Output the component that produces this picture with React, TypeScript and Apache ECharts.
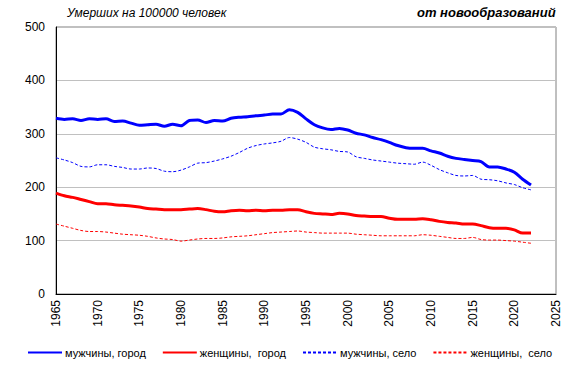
import React, { useEffect, useRef } from "react";
import * as echarts from "echarts";

const years: number[] = [];
for (let y = 1965; y <= 2022; y++) years.push(y);

const menCity = [
  329, 327, 328, 325, 328, 327, 328, 323, 324, 320,
  316, 317, 318, 314, 318, 315, 325, 326, 321, 325,
  324, 329, 331, 332, 334, 335, 337, 337, 345, 340,
  328, 317, 311, 308, 310, 307, 301, 298, 293, 289,
  284, 278, 274, 273, 273, 268, 264, 258, 254, 252,
  250, 248, 238, 238, 234, 228, 215, 204,
];
const womenCity = [
  189, 184, 181, 177, 173, 169, 169, 167, 166, 165,
  163, 160, 159, 158, 158, 158, 159, 160, 158, 155,
  154, 156, 157, 156, 157, 156, 157, 157, 158, 158,
  154, 151, 150, 149, 151, 150, 147, 146, 145, 145,
  142, 140, 140, 140, 141, 139, 136, 134, 133, 131,
  131, 128, 124, 123, 123, 120, 114, 114,
];
const menVillage = [
  255, 251, 246, 239, 238, 242, 242, 239, 237, 234,
  234, 236, 235, 230, 229, 232, 238, 245, 246, 249,
  253, 258, 265, 273, 278, 281, 283, 286, 293, 290,
  284, 275, 272, 270, 267, 266, 257, 254, 251, 249,
  247, 245, 244, 243, 247, 241, 233, 227, 222, 221,
  222, 215, 214, 212, 208, 205, 199, 195,
];
const womenVillage = [
  131, 127, 123, 119, 117, 117, 116, 114, 112, 111,
  110, 108, 105, 103, 102, 99, 101, 103, 104, 104,
  105, 107, 108, 109, 111, 113, 115, 116, 117, 118,
  116, 115, 114, 114, 114, 114, 112, 111, 110, 109,
  109, 109, 109, 109, 111, 110, 108, 106, 104, 104,
  106, 102, 101, 101, 100, 99, 97, 95,
];

const seriesNames = ["мужчины, город", "женщины,  город", "мужчины, село", "женщины,  село"];
const titleLeft = "Умерших на 100000 человек";
const titleRight = "от новообразований";

const FONT = "'Liberation Sans', Arial, sans-serif";

export default function App() {
  const ref = useRef<HTMLDivElement>(null);
  useEffect(() => {
    document.body.style.margin = "0";
    if (!ref.current) return;
    const chart = echarts.init(ref.current, undefined, { renderer: "svg" });
    const pair = (arr: number[]) => years.map((y, i) => [y, arr[i]]);
    chart.setOption({
      animation: false,
      backgroundColor: "#ffffff",
      textStyle: { fontFamily: FONT },
      grid: {
        left: 56,
        right: 25,
        top: 27,
        bottom: 78,
        show: true,
        borderColor: "#808080",
        borderWidth: 1,
      },
      graphic: [
        {
          type: "text",
          left: 67,
          top: 7,
          style: { text: titleLeft, font: `italic 12px ${FONT}`, fill: "#000" },
        },
        {
          type: "text",
          left: 417,
          top: 6,
          style: { text: titleRight, font: `italic bold 13px ${FONT}`, fill: "#000" },
        },
      ],
      legend: {
        left: 22,
        top: 342,
        width: 570,
        padding: 5,
        itemWidth: 34,
        itemHeight: 10,
        itemGap: 16,
        itemStyle: { opacity: 0 },
        textStyle: { fontFamily: FONT, fontSize: 11, color: "#000", padding: [0, 0, 0, -2] },
        data: seriesNames,
      },
      xAxis: {
        type: "value",
        min: 1965,
        max: 2025,
        interval: 5,
        axisLine: { show: true, onZero: false, lineStyle: { color: "#000", width: 1 } },
        axisTick: { show: false },
        splitLine: { show: false },
        axisLabel: {
          rotate: 90,
          fontSize: 12,
          color: "#000",
          margin: 6,
          fontFamily: FONT,
          formatter: (v: number) => String(v),
        },
      },
      yAxis: {
        type: "value",
        min: 0,
        max: 500,
        interval: 100,
        axisLine: { show: true, lineStyle: { color: "#000", width: 1 } },
        axisTick: { show: false },
        splitLine: { show: true, lineStyle: { color: "#c0c0c0", width: 1 } },
        axisLabel: { fontSize: 12, color: "#000", margin: 11, fontFamily: FONT },
      },
      series: [
        {
          name: seriesNames[0],
          type: "line",
          data: pair(menCity),
          symbol: "none",
          smooth: 0.3,
          lineStyle: { color: "#0000ff", width: 3 },
          itemStyle: { color: "#0000ff" },
          z: 4,
        },
        {
          name: seriesNames[1],
          type: "line",
          data: pair(womenCity),
          symbol: "none",
          smooth: 0.3,
          lineStyle: { color: "#ff0000", width: 3 },
          itemStyle: { color: "#ff0000" },
          z: 4,
        },
        {
          name: seriesNames[2],
          type: "line",
          data: pair(menVillage),
          symbol: "none",
          smooth: 0.3,
          lineStyle: { color: "#0000ff", width: 1, type: [3, 2] },
          itemStyle: { color: "#0000ff" },
          z: 3,
        },
        {
          name: seriesNames[3],
          type: "line",
          data: pair(womenVillage),
          symbol: "none",
          smooth: 0.3,
          lineStyle: { color: "#ff0000", width: 1, type: [3, 2] },
          itemStyle: { color: "#ff0000" },
          z: 3,
        },
      ],
    });
    return () => chart.dispose();
  }, []);
  return <div ref={ref} style={{ width: 581, height: 372 }} />;
}
